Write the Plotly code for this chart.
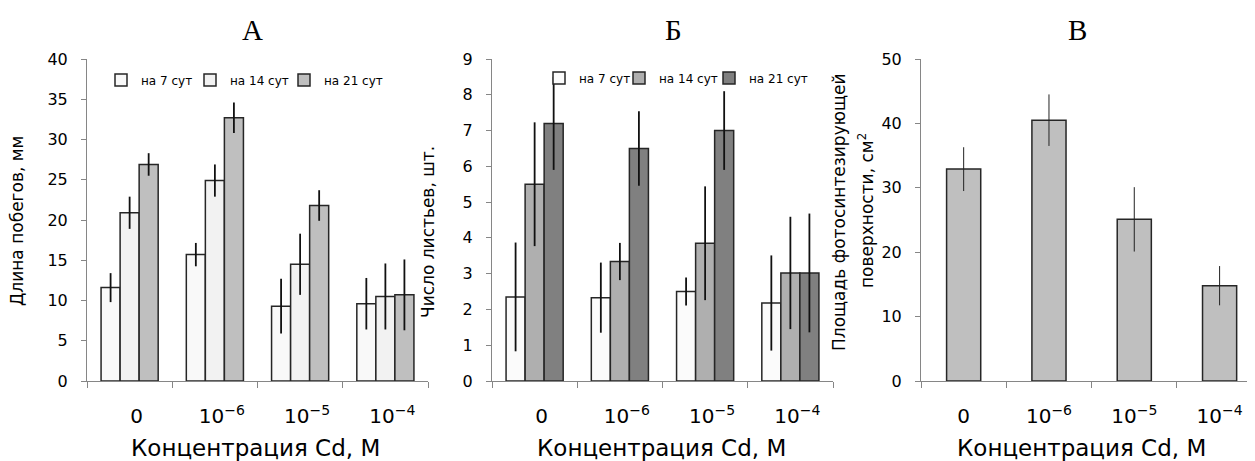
import plotly.graph_objects as go

# ---------------- data ----------------
conc_labels = ["0", "10<sup>−6</sup>", "10<sup>−5</sup>", "10<sup>−4</sup>"]
series_names = ["на 7 сут", "на 14 сут", "на 21 сут"]

# Panel А: shoot length, mm
a_day7 = [11.6, 15.7, 9.3, 9.6]
a_day7_err = [1.8, 1.45, 3.4, 3.2]
a_day14 = [20.9, 24.9, 14.5, 10.5]
a_day14_err = [2.0, 2.0, 3.8, 4.1]
a_day21 = [26.9, 32.7, 21.8, 10.7]
a_day21_err = [1.4, 1.9, 1.9, 4.4]

# Panel Б: number of leaves
b_day7 = [2.35, 2.33, 2.5, 2.18]
b_day7_err = [1.52, 0.98, 0.39, 1.33]
b_day14 = [5.5, 3.34, 3.85, 3.02]
b_day14_err = [1.73, 0.52, 1.59, 1.57]
b_day21 = [7.2, 6.5, 7.0, 3.02]
b_day21_err = [1.3, 1.04, 1.1, 1.66]

# Panel В: photosynthetic surface area, cm2
c_area = [32.9, 40.5, 25.1, 14.8]
c_area_err = [3.4, 4.0, 5.0, 3.05]

# ---------------- style ----------------
PAGE_OFF = 8                      # default body margin of the html page
W, H = 1255 - PAGE_OFF, 461 - PAGE_OFF
FONT = "DejaVu Sans"
SERIF = "Liberation Serif"
AXIS_GRAY = "#868686"
EDGE = "#262626"


def px_x(p):
    """page pixel x -> paper fraction"""
    return (p - PAGE_OFF) / W


def px_y(p):
    """page pixel y -> paper fraction"""
    return 1 - (p - PAGE_OFF) / H


fig = go.Figure()

a_colors = ["#f9f9f9", "#f2f2f2", "#bfbfbf"]
b_colors = ["#fbfbfb", "#afafaf", "#808080"]

a_legends = ["legend", "legend2", "legend3"]
b_legends = ["legend4", "legend5", "legend6"]

for name, vals, errs, col, lg in zip(series_names, [a_day7, a_day14, a_day21],
                                     [a_day7_err, a_day14_err, a_day21_err], a_colors, a_legends):
    fig.add_trace(go.Bar(
        x=conc_labels, y=vals, name=name, xaxis="x", yaxis="y", legend=lg,
        marker=dict(color=col, line=dict(color=EDGE, width=1.5)),
        error_y=dict(type="data", array=errs, color="#111111", thickness=1.8, width=0),
    ))

for name, vals, errs, col, lg in zip(series_names, [b_day7, b_day14, b_day21],
                                     [b_day7_err, b_day14_err, b_day21_err], b_colors, b_legends):
    fig.add_trace(go.Bar(
        x=conc_labels, y=vals, name=name, xaxis="x2", yaxis="y2", legend=lg,
        marker=dict(color=col, line=dict(color=EDGE, width=1.5)),
        error_y=dict(type="data", array=errs, color="#111111", thickness=1.8, width=0),
    ))

fig.add_trace(go.Bar(
    x=conc_labels, y=c_area, name="Площадь", xaxis="x3", yaxis="y3", showlegend=False,
    width=0.40,
    marker=dict(color="#bfbfbf", line=dict(color=EDGE, width=1.5)),
    error_y=dict(type="data", array=c_area_err, color="#222222", thickness=1, width=0),
))

ydom = [px_y(381), px_y(59)]


def xaxis_cfg(domain, anchor, rng, shift):
    return dict(
        domain=domain, anchor=anchor, type="category", range=rng, automargin=False,
        tickson="boundaries", ticks="outside", ticklen=6, tickcolor=AXIS_GRAY,
        showline=True, linecolor=AXIS_GRAY, linewidth=1, showgrid=False,
        tickfont=dict(family=FONT, size=20, color="#000"),
        ticklabelstandoff=17, ticklabelshift=shift, fixedrange=True,
    )


def yaxis_cfg(anchor, rng, dtick, standoff):
    return dict(
        domain=ydom, anchor=anchor, range=rng, dtick=dtick, tick0=0, automargin=False,
        ticks="outside", ticklen=5, tickcolor=AXIS_GRAY,
        showline=True, linecolor=AXIS_GRAY, linewidth=1, showgrid=False, zeroline=False,
        tickfont=dict(family=FONT, size=16, color="#000"),
        ticklabelstandoff=standoff, fixedrange=True,
    )


def legend_cfg(x_px, y_px, size):
    return dict(orientation="h", x=px_x(x_px), y=px_y(y_px),
                xanchor="left", yanchor="middle", bgcolor="rgba(0,0,0,0)",
                font=dict(family=FONT, size=size, color="#000"), itemwidth=30)


layout_legends = {}
for lg, xs in zip(a_legends, [101, 190, 284]):
    layout_legends[lg] = legend_cfg(xs, 80, 12)
for lg, xs in zip(b_legends, [539, 619, 709]):
    layout_legends[lg] = legend_cfg(xs, 78, 12)

fig.update_layout(
    width=W, height=H, autosize=False,
    margin=dict(l=0, r=0, t=0, b=0, autoexpand=False),
    paper_bgcolor="white", plot_bgcolor="white",
    barmode="group", bargap=0.33, bargroupgap=0,
    font=dict(family=FONT, color="#000"),
    xaxis=xaxis_cfg([px_x(87), px_x(428)], "y", [-0.5, 3.5], 7),
    xaxis2=xaxis_cfg([px_x(492), px_x(833)], "y2", [-0.5, 3.5], 7),
    xaxis3=xaxis_cfg([px_x(921), 1.0], "y3", [-0.5, 3.415], 0),
    yaxis=yaxis_cfg("x", [0, 40], 5, 10),
    yaxis2=yaxis_cfg("x2", [0, 9], 1, 10),
    yaxis3=yaxis_cfg("x3", [0, 50], 10, 10),
    showlegend=True,
    **layout_legends,
)

annotations = [
    dict(text="А", x=px_x(252), y=px_y(30), font=dict(family=SERIF, size=29)),
    dict(text="Б", x=px_x(673), y=px_y(30), font=dict(family=SERIF, size=29)),
    dict(text="В", x=px_x(1077), y=px_y(30), font=dict(family=SERIF, size=29)),
    dict(text="Концентрация Cd, М", x=px_x(255), y=px_y(448), font=dict(family=FONT, size=23)),
    dict(text="Концентрация Cd, М", x=px_x(661), y=px_y(448), font=dict(family=FONT, size=23)),
    dict(text="Концентрация Cd, М", x=px_x(1081), y=px_y(448), font=dict(family=FONT, size=23)),
    dict(text="Длина побегов, мм", x=px_x(17), y=px_y(221), textangle=-90,
         font=dict(family=FONT, size=17)),
    dict(text="Число листьев, шт.", x=px_x(428), y=px_y(232), textangle=-90,
         font=dict(family=FONT, size=17)),
    dict(text="Площадь фотосинтезирующей", x=px_x(839), y=px_y(212), textangle=-90,
         font=dict(family=FONT, size=17)),
    dict(text="поверхности, см<sup>2</sup>", x=px_x(866), y=px_y(211), textangle=-90,
         font=dict(family=FONT, size=17)),
]
for a in annotations:
    a.update(xref="paper", yref="paper", showarrow=False, xanchor="center", yanchor="middle")
fig.update_layout(annotations=annotations)

fig.write_html("out.html")
